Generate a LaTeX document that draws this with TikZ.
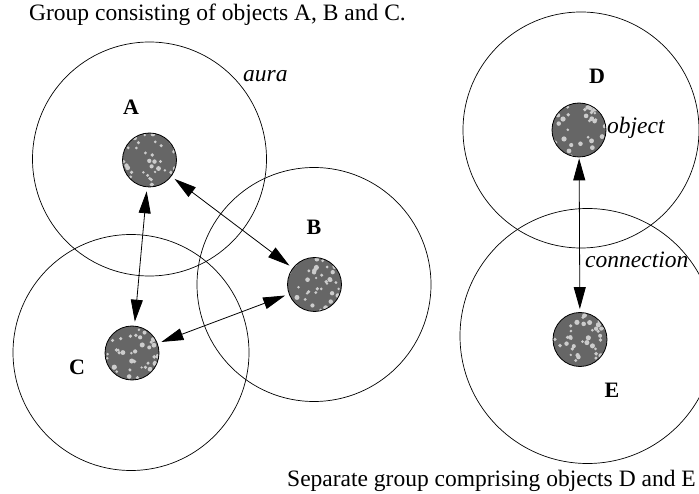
\documentclass[tikz,border=0pt]{standalone}
\usepackage{fontspec}
\setmainfont{Liberation Serif}
\usetikzlibrary{arrows.meta,calc}
\pgfmathsetseed{7}
\begin{document}
\begin{tikzpicture}[x=1pt,y=-1pt,
  aura/.style={circle,draw,line width=0.7pt,inner sep=0pt},
  obj/.style={circle,draw,line width=0.8pt,fill=black!60,minimum size=54pt,inner sep=0pt,
    path picture={\foreach \i in {1,...,40}{\fill[white!80!black] ($(path picture bounding box.center)+(rand*26pt,rand*26pt)$) circle (1.2pt+1.4pt*rnd);}}},
  conn/.style={line width=0.8pt,{Triangle[length=22pt,width=12pt]}-{Triangle[length=22pt,width=12pt]},shorten >=4pt,shorten <=4pt},
  lbl/.style={font=\fontsize{22}{25}\selectfont\bfseries,inner sep=0pt},
  itl/.style={font=\fontsize{23.5}{27}\selectfont\itshape,inner sep=0pt},
  txt/.style={font=\fontsize{23.5}{27}\selectfont,inner sep=0pt}]
\useasboundingbox (0,0) rectangle (699,494);
% auras
\node[aura,minimum size=234pt] (auraA) at (149.5,159) {};
\node[aura,minimum size=234pt] (auraB) at (314,284.5) {};
\node[aura,minimum size=236pt] (auraC) at (131,352.5) {};
\node[aura,minimum size=236pt] (auraD) at (581,130) {};
\node[aura,minimum size=255pt] (auraE) at (587.5,336) {};
% objects
\node[obj] (A) at (149.5,160) {};
\node[obj] (B) at (314.5,284.5) {};
\node[obj] (C) at (132,353) {};
\node[obj] (D) at (579,130) {};
\node[obj] (E) at (580,339.5) {};
% connections
\draw[conn] (A) -- (C);
\draw[conn] (A) -- (B);
\draw[conn] (C) -- (B);
\draw[conn,shorten >=3pt,shorten <=1pt] (D) -- (E);
% labels
\node[lbl] (lA) at (131,107) {A};
\node[lbl] (lB) at (314,227) {B};
\node[lbl] (lC) at (77,367) {C};
\node[lbl] (lD) at (597,76) {D};
\node[lbl] (lE) at (612,390) {E};
\node[itl,anchor=base west] (laura) at (243,82) {aura};
\node[itl,anchor=base west] (lobj) at (607,134) {object};
\node[itl,anchor=base west] (lconn) at (585,268) {connection};
\node[txt,anchor=base west] (title) at (29,21) {Group consisting of objects A, B and C.};
\node[txt,anchor=base west] (bottom) at (287,486) {Separate group comprising objects D and E};
\end{tikzpicture}
\end{document}
